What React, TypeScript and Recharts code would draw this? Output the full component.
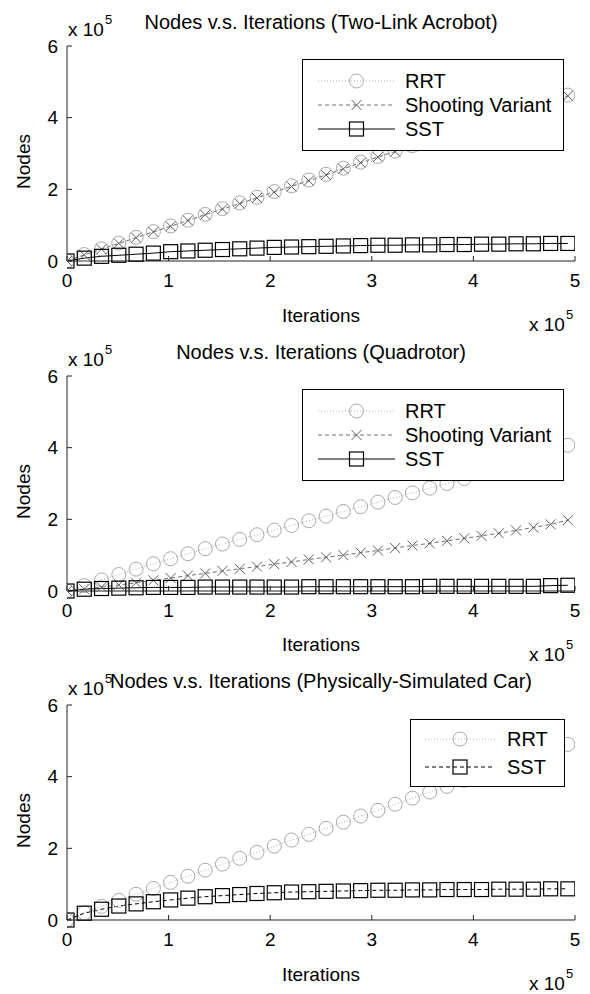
import React from 'react';
import { LineChart, Line, XAxis, YAxis, Label } from 'recharts';

// iterations and node counts are both in units of 10^5, as on the axes
const iterations = [0, 0.17, 0.34, 0.51, 0.68, 0.85, 1.02, 1.19, 1.36, 1.53, 1.7, 1.87, 2.04, 2.21, 2.38, 2.55, 2.72, 2.89, 3.06, 3.23, 3.4, 3.57, 3.74, 3.91, 4.08, 4.25, 4.42, 4.59, 4.76, 4.93];
const xTicks = [0, 1, 2, 3, 4, 5];
const yTicks = [0, 2, 4, 6];

const acrobotRRT = [0, 0.18, 0.34, 0.5, 0.66, 0.82, 0.98, 1.14, 1.3, 1.46, 1.62, 1.78, 1.94, 2.1, 2.26, 2.42, 2.59, 2.76, 2.92, 3.07, 3.22, 3.37, 3.52, 3.67, 3.82, 3.97, 4.12, 4.27, 4.45, 4.63];
const acrobotShooting = [0, 0.17, 0.33, 0.49, 0.65, 0.81, 0.97, 1.13, 1.29, 1.45, 1.6, 1.76, 1.92, 2.08, 2.24, 2.4, 2.57, 2.74, 2.9, 3.05, 3.2, 3.35, 3.5, 3.65, 3.8, 3.95, 4.1, 4.26, 4.43, 4.61];
const acrobotSST = [0, 0.08, 0.13, 0.16, 0.19, 0.22, 0.26, 0.28, 0.3, 0.32, 0.34, 0.36, 0.38, 0.39, 0.4, 0.41, 0.42, 0.43, 0.44, 0.44, 0.45, 0.45, 0.46, 0.46, 0.47, 0.47, 0.48, 0.48, 0.49, 0.49];

const quadRRT = [0, 0.15, 0.31, 0.46, 0.61, 0.76, 0.9, 1.04, 1.18, 1.31, 1.44, 1.57, 1.7, 1.83, 1.96, 2.09, 2.22, 2.35, 2.48, 2.61, 2.74, 2.87, 3.0, 3.14, 3.28, 3.42, 3.56, 3.71, 3.87, 4.07];
const quadShooting = [0, 0.05, 0.11, 0.17, 0.23, 0.3, 0.36, 0.43, 0.49, 0.56, 0.62, 0.68, 0.75, 0.81, 0.88, 0.94, 1.0, 1.07, 1.13, 1.2, 1.27, 1.33, 1.4, 1.47, 1.54, 1.61, 1.69, 1.77, 1.86, 1.98];
const quadSST = [0, 0.05, 0.07, 0.08, 0.09, 0.1, 0.1, 0.1, 0.11, 0.11, 0.11, 0.11, 0.11, 0.11, 0.12, 0.12, 0.12, 0.12, 0.12, 0.12, 0.12, 0.13, 0.13, 0.13, 0.13, 0.13, 0.13, 0.13, 0.15, 0.16];

const carRRT = [0, 0.2, 0.38, 0.55, 0.72, 0.88, 1.05, 1.22, 1.39, 1.56, 1.72, 1.89, 2.06, 2.23, 2.39, 2.56, 2.73, 2.9, 3.06, 3.23, 3.4, 3.57, 3.73, 3.9, 4.06, 4.23, 4.4, 4.56, 4.73, 4.9];
const carSST = [0, 0.19, 0.3, 0.39, 0.45, 0.51, 0.56, 0.61, 0.65, 0.68, 0.71, 0.74, 0.76, 0.78, 0.79, 0.8, 0.81, 0.82, 0.83, 0.83, 0.84, 0.84, 0.85, 0.85, 0.85, 0.86, 0.86, 0.86, 0.87, 0.87];

const FONT = '"Liberation Sans", Arial, Helvetica, sans-serif';

type Marker = 'circle' | 'cross' | 'square';
interface Series {
  key: string;
  name: string;
  values: number[];
  stroke: string;
  dash?: string;
  marker: Marker;
  markerColor: string;
}

const drawMarker = (marker: Marker, cx: number, cy: number, color: string, key?: string) => {
  if (marker === 'circle') {
    return <circle key={key} cx={cx} cy={cy} r={7} fill="none" stroke={color} strokeWidth={1} />;
  }
  if (marker === 'square') {
    return <rect key={key} x={cx - 7} y={cy - 7} width={14} height={14} fill="none" stroke={color} strokeWidth={1.2} />;
  }
  return (
    <g key={key} stroke={color} strokeWidth={1}>
      <line x1={cx - 5} y1={cy - 5} x2={cx + 5} y2={cy + 5} />
      <line x1={cx - 5} y1={cy + 5} x2={cx + 5} y2={cy - 5} />
    </g>
  );
};

const makeDot = (s: Series) => (props: any) => {
  const { cx, cy, index } = props;
  if (cx == null || cy == null) return <g key={`${s.key}-${index}`} />;
  return drawMarker(s.marker, cx, cy, s.markerColor, `${s.key}-${index}`);
};

interface LegendSpec {
  left: number;
  top: number;
  width: number;
  rowTop: number;
  rowGap: number;
  lineX1: number;
  lineX2: number;
  textX: number;
}

const LegendBox = ({ series, spec }: { series: Series[]; spec: LegendSpec }) => {
  const height = spec.rowTop * 2 + spec.rowGap * (series.length - 1);
  return (
    <svg width={spec.width} height={height} style={{ position: 'absolute', left: spec.left, top: spec.top }}>
      <rect x={0.5} y={0.5} width={spec.width - 1} height={height - 1} fill="#fff" stroke="#000" />
      {series.map((s, i) => {
        const y = spec.rowTop + i * spec.rowGap;
        const mx = (spec.lineX1 + spec.lineX2) / 2;
        return (
          <g key={s.key}>
            <line x1={spec.lineX1} y1={y} x2={spec.lineX2} y2={y} stroke={s.stroke} strokeDasharray={s.dash} />
            {drawMarker(s.marker, mx, y, s.markerColor)}
            <text x={spec.textX} y={y + 7} fontSize={20} fontFamily={FONT} fill="#000">{s.name}</text>
          </g>
        );
      })}
    </svg>
  );
};

interface PanelProps {
  title: string;
  top: number;
  height: number;
  plotTop: number;
  series: Series[];
  legend: LegendSpec;
  titleX: number;
}

const PLOT_H = 215;

const Panel = ({ title, top, height, plotTop, series, legend, titleX }: PanelProps) => {
  const data = iterations.map((x, i) => {
    const row: Record<string, number> = { x };
    series.forEach((s) => { row[s.key] = s.values[i]; });
    return row;
  });
  const plotBottom = plotTop + PLOT_H;
  return (
    <div style={{ position: 'absolute', left: 0, top, width: 590, height }}>
      <LineChart width={590} height={height} data={data} margin={{ top: plotTop, right: 15, bottom: 0, left: 7 }}>
        <XAxis
          type="number"
          dataKey="x"
          domain={[0, 5]}
          ticks={xTicks}
          allowDataOverflow
          height={height - plotBottom}
          tickSize={-5}
          tickMargin={18}
          stroke="#222"
          tick={{ fill: '#000', fontSize: 19, fontFamily: FONT }}
        >
          <Label value="Iterations" position="insideBottom" offset={13} fill="#000" fontSize={19} fontFamily={FONT} />
        </XAxis>
        <YAxis
          type="number"
          domain={[0, 6]}
          ticks={yTicks}
          width={60}
          tickSize={-5}
          tickMargin={14}
          stroke="#222"
          tick={{ fill: '#000', fontSize: 19, fontFamily: FONT }}
        >
          <Label value="Nodes" angle={-90} position="insideLeft" offset={16} dy={8} fill="#000" fontSize={19} fontFamily={FONT} style={{ textAnchor: 'middle' }} />
        </YAxis>
        {series.map((s) => (
          <Line
            key={s.key}
            dataKey={s.key}
            name={s.name}
            type="linear"
            stroke={s.stroke}
            strokeWidth={1}
            strokeDasharray={s.dash}
            dot={makeDot(s)}
            activeDot={false}
            isAnimationActive={false}
          />
        ))}
      </LineChart>
      <LegendBox series={series} spec={legend} />
      <svg width={590} height={height} style={{ position: 'absolute', left: 0, top: 0, pointerEvents: 'none' }} fontFamily={FONT} fill="#000">
        <text x={titleX} y={plotTop - 17} fontSize={20} textAnchor="middle">{title}</text>
        <text x={68} y={plotTop - 10} fontSize={19}>x 10</text>
        <text x={105} y={plotTop - 22} fontSize={13}>5</text>
        <text x={529} y={plotBottom + 70} fontSize={19}>x 10</text>
        <text x={566} y={plotBottom + 58} fontSize={13}>5</text>
      </svg>
    </div>
  );
};

const rrtStyle = { stroke: '#b0b0b0', dash: '1 2', marker: 'circle' as Marker, markerColor: '#a8a8a8' };
const shootStyle = { stroke: '#707070', dash: '4 3', marker: 'cross' as Marker, markerColor: '#606060' };
const sstStyle = { stroke: '#000', marker: 'square' as Marker, markerColor: '#000' };

const acrobotSeries: Series[] = [
  { key: 'rrt', name: 'RRT', values: acrobotRRT, ...rrtStyle },
  { key: 'shoot', name: 'Shooting Variant', values: acrobotShooting, ...shootStyle },
  { key: 'sst', name: 'SST', values: acrobotSST, ...sstStyle },
];
const quadSeries: Series[] = [
  { key: 'rrt', name: 'RRT', values: quadRRT, ...rrtStyle },
  { key: 'shoot', name: 'Shooting Variant', values: quadShooting, ...shootStyle },
  { key: 'sst', name: 'SST', values: quadSST, ...sstStyle },
];
const carSeries: Series[] = [
  { key: 'rrt', name: 'RRT', values: carRRT, ...rrtStyle },
  { key: 'sst', name: 'SST', values: carSST, ...sstStyle, dash: '4 3' },
];

const threeLegend = (top: number): LegendSpec => ({
  left: 302, top, width: 262, rowTop: 22, rowGap: 24, lineX1: 16, lineX2: 93, textX: 103,
});
const carLegend: LegendSpec = {
  left: 410, top: 55, width: 155, rowTop: 20, rowGap: 28, lineX1: 15, lineX2: 85, textX: 97,
};

export default function App() {
  return (
    <div style={{ position: 'relative', width: 590, height: 994, background: '#fff', fontFamily: FONT }}>
      <style>{'body{margin:0;background:#fff}'}</style>
      <Panel title="Nodes v.s. Iterations (Two-Link Acrobot)" top={0} height={335} plotTop={46} series={acrobotSeries} legend={threeLegend(59)} titleX={321} />
      <Panel title="Nodes v.s. Iterations (Quadrotor)" top={335} height={329} plotTop={41} series={quadSeries} legend={threeLegend(54)} titleX={321} />
      <Panel title="Nodes v.s. Iterations (Physically-Simulated Car)" top={664} height={330} plotTop={41} series={carSeries} legend={carLegend} titleX={321} />
    </div>
  );
}
